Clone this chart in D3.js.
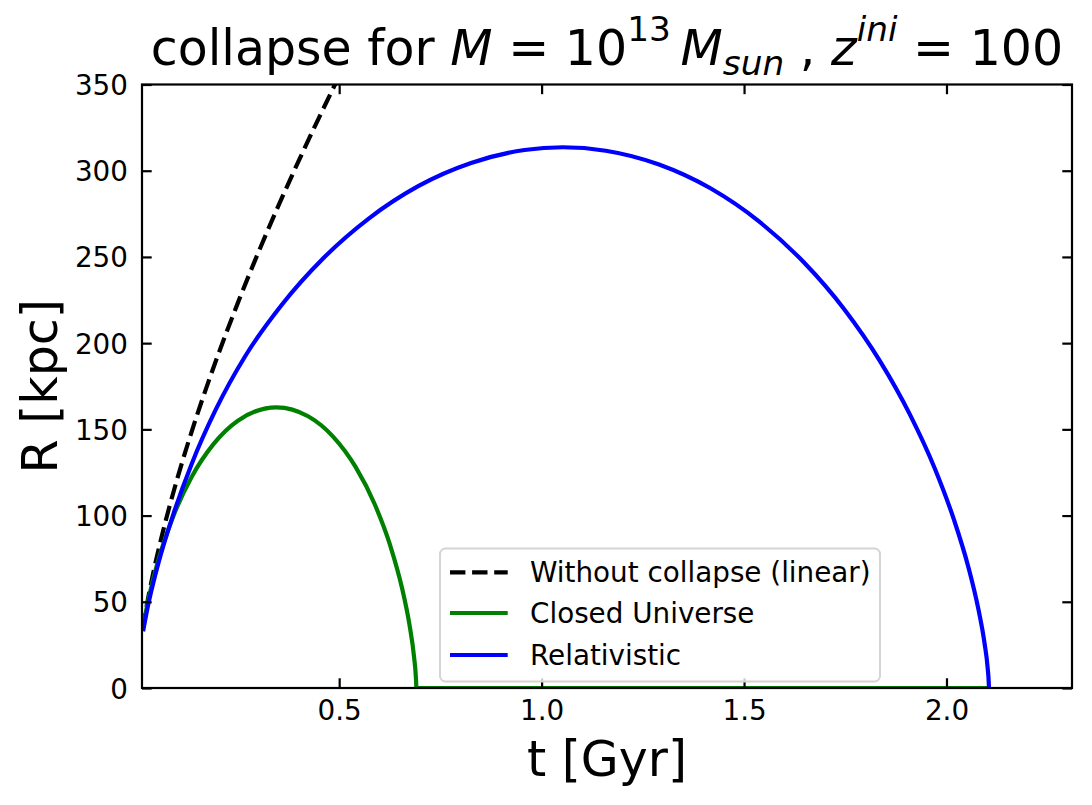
<!DOCTYPE html>
<html>
<head>
<meta charset="utf-8">
<script src="https://cdn.jsdelivr.net/npm/d3@7"></script>
<style>
  html, body { margin: 0; padding: 0; background: #ffffff; }
  svg { display: block; }
  text { font-family: "DejaVu Sans", sans-serif; fill: #000; }
</style>
</head>
<body>
<svg id="chart" width="1092" height="805"></svg>
<script>
// ---- data ----
const seriesNames = ["Without collapse (linear)", "Closed Universe", "Relativistic"];
const seriesColors = ["#000000", "#008000", "#0000ff"];

const tLinear = [0.015, 0.02, 0.03, 0.04, 0.06, 0.08, 0.10, 0.13, 0.16, 0.20, 0.25, 0.30, 0.35, 0.40, 0.45, 0.50, 0.52];
const rLinear = [34.3, 41.5, 54.4, 65.9, 86.3, 104.5, 121.3, 144.5, 166.0, 192.6, 223.5, 252.4, 279.7, 305.7, 330.7, 354.8, 364.1];

const tClosed = [0.0150, 0.0230, 0.0370, 0.0552, 0.0908, 0.1359, 0.1895, 0.2498, 0.3453, 0.4232, 0.4849, 0.5405, 0.5881, 0.6264, 0.6549, 0.6739, 0.6848, 0.6895, 0.6904, 0.6905, 2.100];
const rClosed = [34.0, 44.5, 59.6, 75.6, 99.9, 122.5, 141.4, 155.0, 162.8, 157.6, 145.8, 128.2, 106.4, 82.4, 58.3, 36.3, 18.3, 5.9, 1.4, 0.0, 0.0];

const tRel = [0.0157, 0.0277, 0.0531, 0.0893, 0.1359, 0.1951, 0.2678, 0.3574, 0.4602, 0.5737, 0.6963, 0.8258, 0.9577, 1.0524, 1.1583, 1.2900, 1.4170, 1.5369, 1.6476, 1.7474, 1.8350, 1.9095, 1.9706, 2.0186, 2.0543, 2.0788, 2.0940, 2.1018, 2.1045, 2.1049];
const rRel = [32.9, 47.6, 72.1, 100.0, 130.1, 161.4, 192.4, 222.0, 249.1, 272.4, 291.2, 304.5, 312.0, 313.6, 311.6, 303.6, 289.8, 270.6, 246.9, 219.7, 189.9, 158.7, 127.6, 97.5, 69.9, 45.7, 25.9, 11.4, 2.6, 0.0];

const xTicks = [0.5, 1.0, 1.5, 2.0];
const xTickLabels = ["0.5", "1.0", "1.5", "2.0"];
const yTicks = [0, 50, 100, 150, 200, 250, 300, 350];
const yTickLabels = ["0", "50", "100", "150", "200", "250", "300", "350"];
const xDomain = [0.013, 2.31];
const yDomain = [0, 350];

// ---- layout ----
const L = 142, R = 1072, T = 84.5, B = 688;
const svg = d3.select("#chart");
const x = d3.scaleLinear().domain(xDomain).range([L, R]);
const y = d3.scaleLinear().domain(yDomain).range([B, T]);

svg.append("defs").append("clipPath").attr("id", "plotclip")
  .append("rect").attr("x", L).attr("y", T).attr("width", R - L).attr("height", B - T);

const series = [
  {t: tLinear, r: rLinear, dash: "15.4,6.7"},
  {t: tClosed, r: rClosed, dash: null},
  {t: tRel, r: rRel, dash: null}
];

const line = d3.line().x(d => x(d[0])).y(d => y(d[1])).curve(d3.curveMonotoneX);
const gLines = svg.append("g").attr("clip-path", "url(#plotclip)");
series.forEach((s, i) => {
  const pts = s.t.map((tv, k) => [tv, s.r[k]]);
  gLines.append("path").datum(pts)
    .attr("d", line)
    .attr("fill", "none")
    .attr("stroke", seriesColors[i])
    .attr("stroke-width", 4.2)
    .attr("stroke-dasharray", s.dash)
    .attr("stroke-linejoin", "round");
});

// ---- axes (ticks inward, mirrored on all four sides) ----
const tickLen = 9.7, tickW = 2.2, fs = 27.8;
const axB = d3.axisBottom(x).tickValues(xTicks).tickFormat((d, i) => xTickLabels[i]).tickSizeInner(-tickLen).tickSizeOuter(0).tickPadding(tickLen + 12);
const axT = d3.axisTop(x).tickValues(xTicks).tickFormat("").tickSizeInner(-tickLen).tickSizeOuter(0);
const axL = d3.axisLeft(y).tickValues(yTicks).tickFormat((d, i) => yTickLabels[i]).tickSizeInner(-tickLen).tickSizeOuter(0).tickPadding(tickLen + 14);
const axR = d3.axisRight(y).tickValues(yTicks).tickFormat("").tickSizeInner(-tickLen).tickSizeOuter(0);

function styleAxis(g) {
  g.select(".domain").remove();
  g.selectAll(".tick line").attr("stroke", "#000").attr("stroke-width", tickW);
  g.selectAll(".tick text").attr("font-size", fs).attr("font-family", "DejaVu Sans").attr("fill", "#000");
}
svg.append("g").attr("transform", `translate(0,${B})`).call(axB).call(styleAxis)
  .selectAll(".tick text").attr("dy", "0.71em").attr("y", 12);
svg.append("g").attr("transform", `translate(0,${T})`).call(axT).call(styleAxis);
svg.append("g").attr("transform", `translate(${L},0)`).call(axL).call(styleAxis)
  .selectAll(".tick text").attr("x", -14).attr("dy", "0.36em");
svg.append("g").attr("transform", `translate(${R},0)`).call(axR).call(styleAxis);

// frame
svg.append("rect").attr("x", L).attr("y", T).attr("width", R - L).attr("height", B - T)
  .attr("fill", "none").attr("stroke", "#000").attr("stroke-width", 2.2);

// ---- axis labels ----
svg.append("text").attr("x", (L + R) / 2).attr("y", 776).attr("text-anchor", "middle")
  .attr("font-size", 49).text("t [Gyr]");
svg.append("text").attr("transform", `translate(57,${(T + B) / 2}) rotate(-90)`).attr("text-anchor", "middle")
  .attr("font-size", 49).text("R [kpc]");

// ---- title with math-style parts ----
const title = svg.append("text").attr("x", (L + R) / 2).attr("y", 65).attr("text-anchor", "middle").attr("font-size", 49);
const parts = [
  {s: "collapse for ", it: false},
  {s: "M", it: true},
  {s: " = ", it: false},
  {s: "10", it: false},
  {s: "13", it: false, sup: true},
  {s: "\u2009M", it: true, back: "sup"},
  {s: "sun", it: true, sub: true},
  {s: " , ", it: false, back: "sub"},
  {s: "z", it: true},
  {s: "ini", it: true, sup: true},
  {s: " = 100", it: false, back: "sup"}
];
const supShift = 24, subShift = 10;
parts.forEach(p => {
  const ts = title.append("tspan").text(p.s);
  if (p.it) ts.attr("font-style", "italic");
  let dy = 0;
  if (p.back === "sup") dy += supShift;
  if (p.back === "sub") dy -= subShift;
  if (p.sup) { dy -= supShift; ts.attr("font-size", 49 * 0.7); }
  if (p.sub) { dy += subShift; ts.attr("font-size", 49 * 0.7); }
  if (dy !== 0) ts.attr("dy", dy);
});

// ---- legend ----
const lg = svg.append("g");
lg.append("rect").attr("x", 440).attr("y", 548.5).attr("width", 440).attr("height", 133)
  .attr("rx", 5.5).attr("ry", 5.5)
  .attr("fill", "#ffffff").attr("fill-opacity", 0.8)
  .attr("stroke", "#d4d4d4").attr("stroke-width", 2);
const rowY = [572.3, 613, 655];
seriesNames.forEach((name, i) => {
  lg.append("line").attr("x1", 450).attr("x2", 507.7).attr("y1", rowY[i]).attr("y2", rowY[i])
    .attr("stroke", seriesColors[i]).attr("stroke-width", 4.2)
    .attr("stroke-dasharray", series[i].dash);
  lg.append("text").attr("x", 530).attr("y", rowY[i]).attr("dy", "0.36em")
    .attr("font-size", fs).text(name);
});
</script>
</body>
</html>
